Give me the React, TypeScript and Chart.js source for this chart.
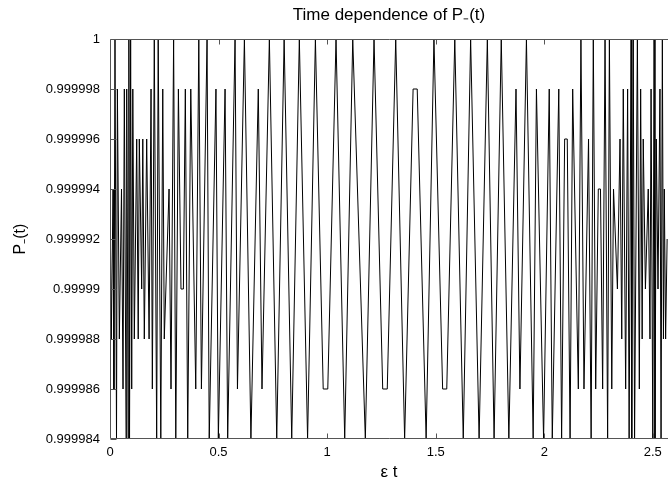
import React, { useEffect, useRef } from 'react';
import { Chart, registerables } from 'chart.js';

Chart.register(...registerables);

// Sample times (ε t)
const xValues = [
  0.000, 0.006, 0.014, 0.018, 0.023, 0.030, 0.034, 0.043, 0.053, 0.060,
  0.066, 0.074, 0.077, 0.084, 0.087, 0.090, 0.095, 0.100, 0.105, 0.112,
  0.123, 0.130, 0.135, 0.146, 0.151, 0.158, 0.169, 0.180, 0.189, 0.195,
  0.204, 0.215, 0.222, 0.234, 0.243, 0.250, 0.272, 0.281, 0.293, 0.303,
  0.315, 0.327, 0.338, 0.347, 0.358, 0.372, 0.395, 0.409, 0.421, 0.447,
  0.457, 0.488, 0.499, 0.530, 0.542, 0.576, 0.587, 0.619, 0.649, 0.683,
  0.700, 0.734, 0.768, 0.802, 0.837, 0.872, 0.910, 0.946, 0.982, 1.003,
  1.041, 1.081, 1.118, 1.176, 1.216, 1.256, 1.277, 1.316, 1.357, 1.396,
  1.415, 1.456, 1.492, 1.532, 1.551, 1.588, 1.627, 1.661, 1.700, 1.738,
  1.769, 1.802, 1.837, 1.870, 1.888, 1.918, 1.949, 1.964, 1.997, 2.023,
  2.037, 2.067, 2.080, 2.094, 2.106, 2.119, 2.131, 2.157, 2.169, 2.183,
  2.204, 2.216, 2.226, 2.237, 2.249, 2.259, 2.269, 2.280, 2.292, 2.300,
  2.311, 2.319, 2.337, 2.349, 2.357, 2.364, 2.375, 2.384, 2.391, 2.400,
  2.403, 2.410, 2.416, 2.429, 2.438, 2.444, 2.451, 2.456, 2.466, 2.479,
  2.487, 2.492, 2.500, 2.506, 2.510, 2.516, 2.524, 2.533, 2.538, 2.544,
  2.549, 2.553, 2.559, 2.566,
];

// P_-(t) values
const yValues = [
  0.999994, 0.999988, 0.999994, 0.999986, 1, 0.999984, 0.999998, 0.999988, 0.999994, 0.999986,
  0.999998, 0.999984, 0.999998, 0.999984, 1, 0.999984, 1, 0.999986, 0.999998, 0.999988,
  0.999996, 0.999988, 0.999996, 0.99999, 0.999996, 0.999988, 0.999996, 0.999988, 0.999998, 0.999986,
  1, 0.999984, 1, 0.999984, 0.999998, 0.999988, 0.999994, 0.999986, 1, 0.999984,
  0.999998, 0.99999, 0.99999, 0.999998, 0.999984, 0.999998, 0.999986, 1, 0.999986, 1,
  0.999984, 0.999998, 0.999984, 0.999998, 0.999984, 1, 0.999986, 1, 0.999984, 0.999998,
  0.999986, 1, 0.999984, 1, 0.999984, 1, 0.999984, 1, 0.999986, 0.999986,
  1, 0.999984, 1, 0.999984, 1, 0.999986, 0.999986, 1, 0.999984, 0.999998,
  0.999998, 0.999984, 1, 0.999986, 0.999986, 1, 0.999984, 1, 0.999984, 1,
  0.999984, 1, 0.999984, 0.999998, 0.999986, 1, 0.999984, 0.999998, 0.999984, 0.999998,
  0.999984, 0.999998, 0.999984, 0.999996, 0.999996, 0.999984, 0.999998, 0.999986, 1, 0.999986,
  0.999996, 0.999984, 1, 0.999986, 0.999994, 0.999994, 0.999986, 1, 0.999984, 1,
  0.999986, 0.999994, 0.99999, 0.999996, 0.999988, 0.999998, 0.999986, 0.999998, 0.999984, 1,
  0.999984, 1, 0.999984, 1, 0.999986, 0.999998, 0.999988, 0.999996, 0.99999, 0.999994,
  0.999988, 0.999998, 0.999984, 1, 0.999984, 0.999996, 0.99999, 0.999998, 0.999984, 1,
  0.999988, 0.999994, 0.999988, 0.999992,
];

const xTickValues = [0, 0.5, 1, 1.5, 2, 2.5];
const xTickLabels = ['0', '0.5', '1', '1.5', '2', '2.5'];
const yTickValues = [0.999984, 0.999986, 0.999988, 0.99999, 0.999992, 0.999994, 0.999996, 0.999998, 1];
const yTickLabels = ['0.999984', '0.999986', '0.999988', '0.99999', '0.999992', '0.999994', '0.999996', '0.999998', '1'];

const titleText = 'Time dependence of P\u208B(t)';
const xTitleText = '\u03B5 t';
const yTitleText = 'P\u208B(t)';

const X_MIN = 0;
const X_MAX = 2.57;
const Y_MIN = 0.999984;
const Y_MAX = 1;

const FONT = "'Liberation Sans', Arial, Helvetica, sans-serif";

const framePlugin = {
  id: 'gnuFrame',
  afterDatasetsDraw(chart: any) {
    const { ctx, chartArea } = chart;
    const { left, right, top, bottom } = chartArea;
    const xs = chart.scales.x;
    const ys = chart.scales.y;
    const L = Math.round(left) + 0.5;
    const T = Math.round(top) + 0.5;
    const B = Math.round(bottom) - 0.5;
    ctx.save();
    ctx.strokeStyle = '#555';
    ctx.lineWidth = 1;
    ctx.beginPath();
    ctx.moveTo(right + 2, T);
    ctx.lineTo(L, T);
    ctx.lineTo(L, B);
    ctx.lineTo(right + 2, B);
    // inward ticks
    for (const t of ys.ticks) {
      const py = Math.round(ys.getPixelForValue(t.value)) + 0.5;
      ctx.moveTo(L, py);
      ctx.lineTo(L + 6, py);
    }
    for (const t of xs.ticks) {
      if (t.value === X_MIN) continue;
      const px = Math.round(xs.getPixelForValue(t.value)) + 0.5;
      ctx.moveTo(px, B);
      ctx.lineTo(px, B - 5);
      ctx.moveTo(px, T);
      ctx.lineTo(px, T + 5);
    }
    ctx.stroke();
    ctx.restore();
  },
};

export default function App() {
  const ref = useRef<HTMLCanvasElement>(null);

  useEffect(() => {
    document.body.style.margin = '0';
    const canvas = ref.current;
    if (!canvas) return;
    const points = xValues.map((x, i) => ({ x, y: yValues[i] }));
    const chart = new Chart(canvas, {
      type: 'line',
      data: {
        datasets: [
          {
            data: points,
            borderColor: '#000',
            borderWidth: 1,
            pointRadius: 0,
            pointHoverRadius: 0,
            tension: 0,
            fill: false,
          },
        ],
      },
      options: {
        responsive: false,
        animation: false,
        devicePixelRatio: 1,
        events: [],
        layout: { padding: { left: 0, right: 0, top: 0, bottom: 0 } },
        plugins: {
          legend: { display: false },
          tooltip: { enabled: false },
          title: {
            display: true,
            text: titleText,
            fullSize: false,
            color: '#000',
            font: { family: FONT, size: 17, weight: 'normal' },
            padding: { top: 5, bottom: 13.6 },
          },
        },
        scales: {
          x: {
            type: 'linear',
            min: X_MIN,
            max: X_MAX,
            grid: { display: false, drawTicks: false },
            border: { display: false },
            afterBuildTicks: (scale: any) => {
              scale.ticks = xTickValues.map((v) => ({ value: v }));
            },
            afterFit: (scale: any) => {
              scale.height = 45;
            },
            ticks: {
              color: '#000',
              padding: 6,
              maxRotation: 0,
              autoSkip: false,
              font: { family: FONT, size: 13 },
              callback: (_v: any, i: number) => xTickLabels[i],
            },
            title: {
              display: true,
              text: xTitleText,
              color: '#000',
              font: { family: FONT, size: 17 },
              padding: { top: 0, bottom: 1.8 },
            },
          },
          y: {
            type: 'linear',
            min: Y_MIN,
            max: Y_MAX,
            grid: { display: false, drawTicks: false },
            border: { display: false },
            afterBuildTicks: (scale: any) => {
              scale.ticks = yTickValues.map((v) => ({ value: v }));
            },
            afterFit: (scale: any) => {
              scale.width = 110;
            },
            ticks: {
              color: '#000',
              padding: 10,
              autoSkip: false,
              font: { family: FONT, size: 13 },
              callback: (_v: any, i: number) => yTickLabels[i],
            },
            title: {
              display: true,
              text: yTitleText,
              color: '#000',
              font: { family: FONT, size: 16 },
              padding: { top: 11, bottom: 0 },
            },
          },
        },
      },
      plugins: [framePlugin],
    });
    return () => chart.destroy();
  }, []);

  return (
    <div style={{ width: 668, height: 484, overflow: 'hidden' }}>
      <canvas ref={ref} width={668} height={484} style={{ display: 'block' }} />
    </div>
  );
}
